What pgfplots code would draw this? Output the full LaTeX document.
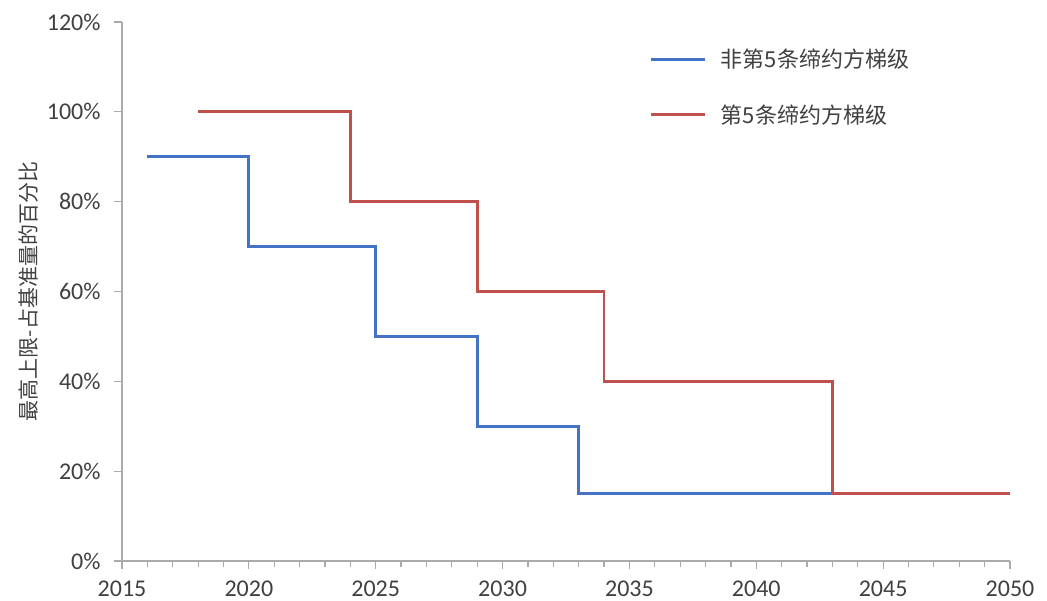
\documentclass[border=0pt]{standalone}
\usepackage{pgfplots}
\pgfplotsset{compat=1.18}
\usepackage{fontspec}
\setmainfont{Carlito}
\newfontfamily\cjk{Noto Sans CJK SC}
\definecolor{exblue}{RGB}{68,114,196}
\definecolor{exred}{RGB}{192,80,77}
\definecolor{axgray}{RGB}{170,170,170}
\definecolor{txt}{RGB}{64,64,64}
\begin{document}
\begin{tikzpicture}[x=1bp,y=1bp]
\begin{axis}[
    scale only axis,
    width=888bp, height=539bp,
    xmin=2015, xmax=2050,
    ymin=0, ymax=120,
    axis x line*=bottom,
    axis y line*=left,
    axis line style={axgray, line width=1.5bp},
    xtick={2015,2020,...,2050},
    minor x tick num=4,
    ytick={0,20,...,120},
    tick align=outside,
    major tick length=8bp,
    minor tick length=6bp,
    tick style={axgray, line width=1.2bp},
    xtick pos=bottom, ytick pos=left,
    /pgf/number format/assume math mode=true,
    /pgf/number format/1000 sep={},
    yticklabel={\pgfmathprintnumber{\tick}\%},
    ticklabel style={font=\fontsize{24bp}{28bp}\selectfont, text=txt},
    xticklabel style={inner ysep=0pt, text depth=0pt, yshift=-12bp},
    yticklabel style={xshift=-10bp},
    ylabel={\cjk 最高上限-占基准量的百分比},
    ylabel style={font=\cjk\fontsize{21bp}{24bp}\selectfont, text=txt, at={(axis description cs:-0.09,0.5)}},
    legend style={draw=none, fill=none, at={(rel axis cs:0.591,0.957)}, anchor=north west,
        font=\cjk\fontsize{22bp}{26bp}\selectfont, text=txt, row sep=31bp},
    legend cell align=left,
    legend image code/.code={\draw[#1] (0bp,0bp) -- (54bp,0bp); \path (66bp,0bp);},
    clip=false,
]
\addplot[const plot, exblue, line width=2.8bp] coordinates {
    (2016,90) (2020,70) (2025,50) (2029,30) (2033,15) (2043,15)
};
\addlegendentry{非第5条缔约方梯级}
\addplot[const plot, exred, line width=2.8bp] coordinates {
    (2018,100) (2024,80) (2029,60) (2034,40) (2043,15) (2050,15)
};
\addlegendentry{第5条缔约方梯级}
\end{axis}
\pgfresetboundingbox
\useasboundingbox (-122bp,-40bp) rectangle (925bp,561bp);
\end{tikzpicture}
\end{document}
